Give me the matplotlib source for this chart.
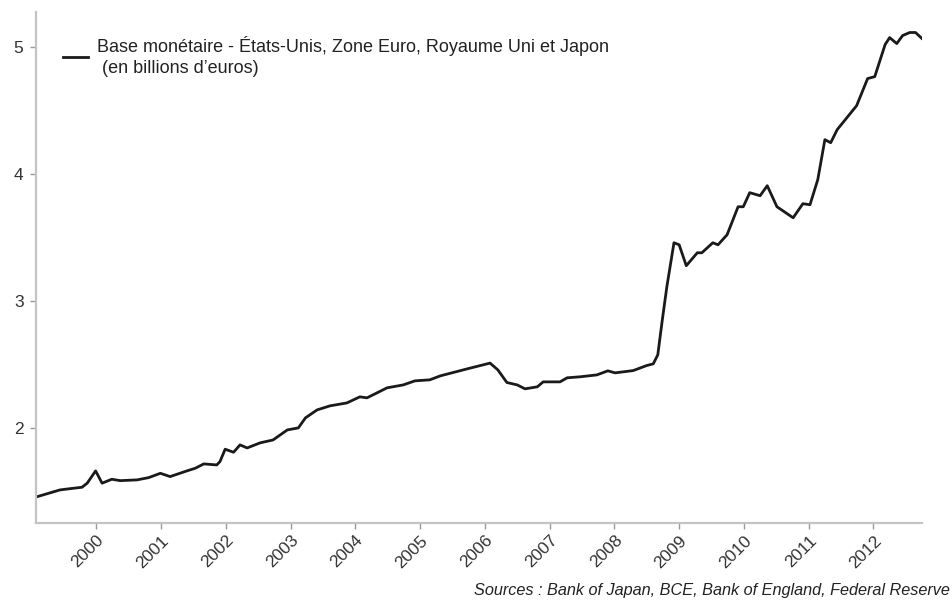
import matplotlib
matplotlib.use("Agg")
import matplotlib.pyplot as plt

plt.rcParams['font.family'] = ['Liberation Sans', 'DejaVu Sans']

# Monetary base (trillions of euros)
dates = [1999.07, 1999.44, 1999.60, 1999.78, 1999.86, 1999.99, 2000.09, 2000.24,
         2000.37, 2000.63, 2000.81, 2000.99, 2001.14, 2001.40, 2001.53, 2001.66,
         2001.86, 2001.91, 2001.99, 2002.12, 2002.22, 2002.33, 2002.53, 2002.73,
         2002.95, 2003.12, 2003.23, 2003.41, 2003.61, 2003.87, 2004.07, 2004.18,
         2004.49, 2004.74, 2004.92, 2005.15, 2005.31, 2005.73, 2006.08, 2006.20,
         2006.34, 2006.50, 2006.62, 2006.81, 2006.90, 2007.16, 2007.27, 2007.47,
         2007.73, 2007.90, 2008.01, 2008.29, 2008.50, 2008.60, 2008.67, 2008.74,
         2008.81, 2008.92, 2009.00, 2009.11, 2009.28, 2009.35, 2009.52, 2009.60,
         2009.74, 2009.91, 2009.99, 2010.09, 2010.25, 2010.36, 2010.51, 2010.76,
         2010.91, 2011.02, 2011.14, 2011.25, 2011.34, 2011.44, 2011.74, 2011.91,
         2012.02, 2012.18, 2012.25, 2012.36, 2012.45, 2012.56, 2012.65, 2012.75]
base = [1.455, 1.511, 1.521, 1.532, 1.564, 1.661, 1.564, 1.595,
        1.584, 1.590, 1.608, 1.642, 1.616, 1.661, 1.682, 1.716,
        1.708, 1.734, 1.832, 1.808, 1.866, 1.842, 1.882, 1.905,
        1.984, 2.000, 2.079, 2.142, 2.174, 2.197, 2.245, 2.237,
        2.316, 2.339, 2.371, 2.379, 2.410, 2.466, 2.511, 2.458,
        2.358, 2.339, 2.308, 2.324, 2.363, 2.363, 2.395, 2.403,
        2.418, 2.450, 2.434, 2.452, 2.492, 2.505, 2.576, 2.852,
        3.113, 3.460, 3.444, 3.279, 3.381, 3.381, 3.460, 3.444,
        3.523, 3.744, 3.744, 3.855, 3.831, 3.910, 3.744, 3.657,
        3.768, 3.760, 3.957, 4.273, 4.249, 4.352, 4.541, 4.755,
        4.770, 5.023, 5.078, 5.031, 5.094, 5.118, 5.118, 5.070]

years = list(range(2000, 2013))
yticks = [2, 3, 4, 5]

label = "Base monétaire - États-Unis, Zone Euro, Royaume Uni et Japon\n (en billions d’euros)"
source = "Sources : Bank of Japan, BCE, Bank of England, Federal Reserve"

fig = plt.figure(figsize=(9.53, 6.08), dpi=100)
ax = fig.add_axes([0.0378, 0.1398, 0.9297, 0.8405])

ax.plot(dates, base, color='#1a1a1a', linewidth=2.0, label=label,
        solid_joinstyle='round')

ax.set_xlim(dates[0], dates[-1])
ax.set_ylim(1.25, 5.28)
ax.set_xticks(years)
ax.set_xticklabels([str(y) for y in years], rotation=45, ha='right',
                   rotation_mode='anchor')
ax.set_yticks(yticks)

for side in ['top', 'right']:
    ax.spines[side].set_visible(False)
for side in ['left', 'bottom']:
    ax.spines[side].set_color('#c4c4c4')
    ax.spines[side].set_linewidth(1.6)
ax.tick_params(axis='both', colors='#9a9a9a', length=4, width=1,
               labelcolor='#333333', labelsize=12.5)
ax.tick_params(axis='y', pad=5)
ax.tick_params(axis='x', pad=3)

leg = ax.legend(loc='upper left', bbox_to_anchor=(0.012, 0.985), frameon=False,
                fontsize=13, handlelength=1.4, handletextpad=0.5,
                borderpad=0.4, labelspacing=0.2)
for t in leg.get_texts():
    t.set_color('#222222')
    t.set_linespacing(1.3)

fig.text(0.997, 0.016, source, ha='right', va='bottom', fontsize=11.7,
         style='italic', color='#222222')

fig.savefig('out.png', dpi=100)
